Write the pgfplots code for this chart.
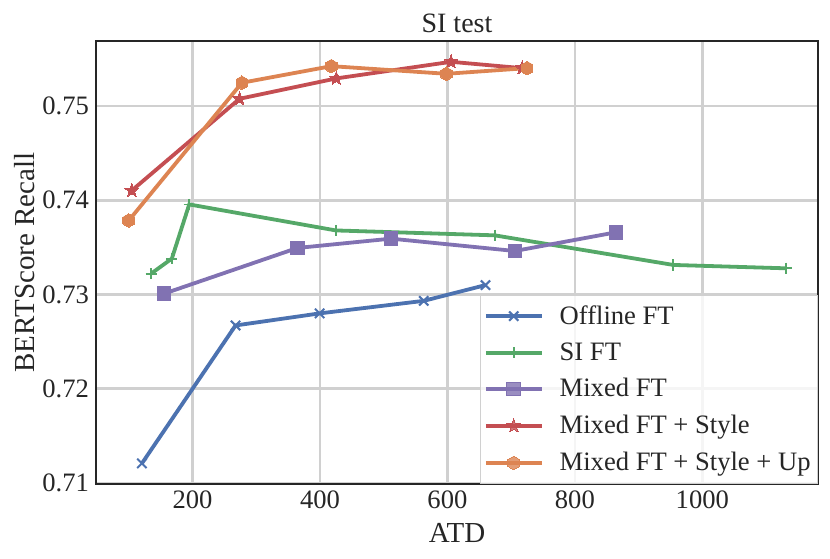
\documentclass[border=0pt]{standalone}
\usepackage{fontspec}
\setmainfont{Liberation Serif}
\usepackage{pgfplots}
\pgfplotsset{compat=1.18}
\usetikzlibrary{calc}
\definecolor{sbblue}{HTML}{4C72B0}
\definecolor{sbgreen}{HTML}{55A868}
\definecolor{sbred}{HTML}{C44E52}
\definecolor{sbpurple}{HTML}{8172B2}
\definecolor{sborange}{HTML}{DD8452}
\definecolor{txt}{HTML}{262626}
\definecolor{gridc}{HTML}{D0D0D0}
\pgfdeclareplotmark{hexa}{%
  \pgfpathmoveto{\pgfpointpolar{90}{\pgfplotmarksize}}%
  \pgfpathlineto{\pgfpointpolar{150}{\pgfplotmarksize}}%
  \pgfpathlineto{\pgfpointpolar{210}{\pgfplotmarksize}}%
  \pgfpathlineto{\pgfpointpolar{270}{\pgfplotmarksize}}%
  \pgfpathlineto{\pgfpointpolar{330}{\pgfplotmarksize}}%
  \pgfpathlineto{\pgfpointpolar{30}{\pgfplotmarksize}}%
  \pgfpathclose\pgfusepathqfillstroke}
\pgfdeclareplotmark{fstar}{%
  \pgfpathmoveto{\pgfpointpolar{90}{\pgfplotmarksize}}%
  \pgfpathlineto{\pgfpointpolar{126}{0.42\pgfplotmarksize}}%
  \pgfpathlineto{\pgfpointpolar{162}{\pgfplotmarksize}}%
  \pgfpathlineto{\pgfpointpolar{198}{0.42\pgfplotmarksize}}%
  \pgfpathlineto{\pgfpointpolar{234}{\pgfplotmarksize}}%
  \pgfpathlineto{\pgfpointpolar{270}{0.42\pgfplotmarksize}}%
  \pgfpathlineto{\pgfpointpolar{306}{\pgfplotmarksize}}%
  \pgfpathlineto{\pgfpointpolar{342}{0.42\pgfplotmarksize}}%
  \pgfpathlineto{\pgfpointpolar{18}{\pgfplotmarksize}}%
  \pgfpathlineto{\pgfpointpolar{54}{0.42\pgfplotmarksize}}%
  \pgfpathclose\pgfusepathqfillstroke}
\begin{document}
\begin{tikzpicture}
\begin{axis}[
  scale only axis,
  width=361pt, height=221.5pt,
  xmin=48.5, xmax=1181.5,
  ymin=0.7099, ymax=0.7569,
  xtick={200,400,600,800,1000},
  ytick={0.71,0.72,0.73,0.74,0.75},
  xticklabel style={/pgf/number format/1000 sep={}},
  yticklabel style={/pgf/number format/fixed,/pgf/number format/precision=2},
  /pgf/number format/assume math mode=true,
  scaled y ticks=false,
  tick label style={font=\rmfamily\fontsize{13.3}{15}\selectfont, text=txt},
  major tick length=0pt,
  grid=major,
  major grid style={draw=gridc, line width=1.3pt},
  axis line style={draw=txt, line width=1pt},
  title={SI test},
  xlabel={ATD},
  ylabel={BERTScore Recall},
  every axis title/.style={at={(axis description cs:0.5,1)}, yshift=9pt, anchor=center, font=\rmfamily\fontsize{14}{16}\selectfont, text=txt},
  every axis x label/.style={at={(axis description cs:0.5,0)}, yshift=-24.5pt, anchor=center, font=\rmfamily\fontsize{14.5}{16}\selectfont, text=txt},
  every axis y label/.style={at={(axis description cs:0,0.5)}, xshift=-35.5pt, rotate=90, anchor=center, font=\rmfamily\fontsize{14.5}{16}\selectfont, text=txt},
  legend style={at={(axis description cs:1,0)}, anchor=south east, draw=gridc, fill=white, fill opacity=0.8, text opacity=1, font=\rmfamily\fontsize{13.3}{15}\selectfont, text=txt, row sep=3.7pt, inner xsep=1.5pt, inner ysep=3pt},
  legend cell align=left,
  legend image code/.code={\draw[mark repeat=2,mark phase=2] plot coordinates {(0pt,0pt) (14pt,0pt) (28pt,0pt)}; \path (34pt,0pt);},
  every axis plot/.append style={line width=1.9pt},
]
\addplot[sbblue, mark=x, mark size=3.3pt, mark options={line width=1pt}] coordinates {
 (120.5,0.71208) (267.5,0.72672) (399.5,0.7280) (562.8,0.72933) (659.7,0.7310)};
\addlegendentry{Offline FT}
\addplot[sbgreen, mark=+, mark size=2.8pt, mark options={line width=0.9pt}] coordinates {
 (135,0.73222) (167.5,0.73381) (194.8,0.73956) (425,0.7368) (674.3,0.73628) (954.4,0.73314) (1131.9,0.73278)};
\addlegendentry{SI FT}
\addplot[sbpurple, mark=square*, mark size=3.4pt, mark options={line width=0pt}] coordinates {
 (155.5,0.7301) (364.4,0.73494) (511.5,0.73593) (705.7,0.73462) (864.4,0.7366)};
\addlegendentry{Mixed FT}
\addplot[sbred, mark=fstar, mark size=3.6pt, mark options={line width=0pt}] coordinates {
 (104.7,0.74104) (273.8,0.75077) (425.6,0.75293) (605.7,0.75469) (717.2,0.75402)};
\addlegendentry{Mixed FT + Style}
\addplot[sborange, mark=hexa, mark size=3.4pt, mark options={line width=0pt}] coordinates {
 (100,0.73786) (277.5,0.75247) (417.8,0.75423) (598.4,0.75342) (725,0.75402)};
\addlegendentry{Mixed FT + Style + Up}
\end{axis}
\pgfresetboundingbox
\useasboundingbox ($(current axis.south west)+(-48pt,-37.5pt)$) rectangle ($(current axis.north east)+(6pt,20.5pt)$);
\end{tikzpicture}
\end{document}
